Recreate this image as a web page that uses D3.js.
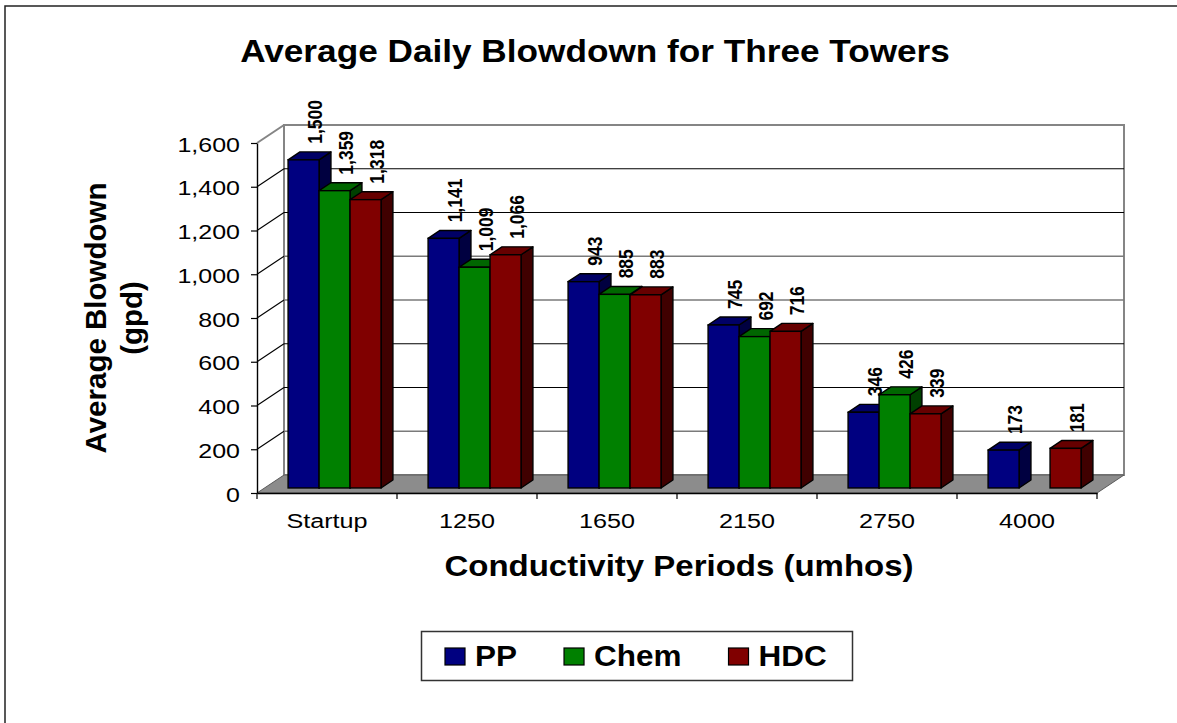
<!DOCTYPE html>
<html>
<head>
<meta charset="utf-8">
<script src="https://cdn.jsdelivr.net/npm/d3@7"></script>
<style>
    body { margin: 0; background: #fff; }
    svg { display: block; font-family: Arial, "Liberation Sans", sans-serif; }
</style>
</head>
<body>
<div id="chart"></div>
<script>
// chart values
const categories = ["Startup", "1250", "1650", "2150", "2750", "4000"];
const seriesNames = ["PP", "Chem", "HDC"];
const ppValues = [1500, 1141, 943, 745, 346, 173];
const chemValues = [1359, 1009, 885, 692, 426, null];
const hdcValues = [1318, 1066, 883, 716, 339, 181];
const yTicks = [0, 200, 400, 600, 800, 1000, 1200, 1400, 1600];

const chartTitle = "Average Daily Blowdown for Three Towers";
const xTitle = "Conductivity Periods (umhos)";
const yTitleLines = ["Average Blowdown", "(gpd)"];

// colours per series: front, top, side
const colors = {
    PP:   { front: "#000080", top: "#000066", side: "#000040" },
    Chem: { front: "#008000", top: "#006600", side: "#004000" },
    HDC:  { front: "#800000", top: "#660000", side: "#400000" }
};

const width = 1177, height = 723;

const svg = d3.select("#chart").append("svg")
    .attr("width", width)
    .attr("height", height);

// outer frame (right and bottom edges fall outside the picture)
svg.append("rect")
    .attr("x", 5).attr("y", 6)
    .attr("width", 1300).attr("height", 900)
    .attr("fill", "none")
    .attr("stroke", "#222")
    .attr("stroke-width", 1.5);

// 3d geometry
const DX = 27, DY = -18;          // wall depth
const barFront = 0.28, barDepth = 0.44;

// scales
let y = d3.scaleLinear().domain([0, 1600]).range([493, 143]);
let x = d3.scaleBand().domain(categories).range([257, 1097])
    .paddingInner(0.336).paddingOuter(0.168);
let xs = d3.scaleBand().domain(seriesNames).range([0, x.bandwidth()]);

const xLeft = x.range()[0], xRight = x.range()[1];
const softGrid = [200, 800, 1000];

// ---- walls ----
let walls = svg.append("g").attr("class", "walls");

// side wall
walls.append("path")
    .attr("d", `M${xLeft},${y(0)} L${xLeft + DX},${y(0) + DY} L${xLeft + DX},${y(1600) + DY} L${xLeft},${y(1600)} Z`)
    .attr("fill", "#fff")
    .attr("stroke", "none");

// back wall
walls.append("rect")
    .attr("x", xLeft + DX).attr("y", y(1600) + DY)
    .attr("width", xRight - xLeft)
    .attr("height", y(0) - y(1600))
    .attr("fill", "#fff")
    .attr("stroke", "#858585")
    .attr("stroke-width", 2);

// gridlines on side and back wall
let grid = svg.append("g").attr("class", "grid");
grid.selectAll(".grid-back")
    .data(yTicks.filter(d => d > 0 && d < 1600))
    .join("line")
    .attr("class", "grid-back")
    .attr("x1", xLeft + DX).attr("x2", xRight + DX)
    .attr("y1", d => y(d) + DY).attr("y2", d => y(d) + DY)
    .attr("stroke", d => softGrid.includes(d) ? "#7a7a7a" : "#000")
    .attr("stroke-width", d => softGrid.includes(d) ? 1.6 : 1.2);

grid.selectAll(".grid-side")
    .data(yTicks.filter(d => d > 0))
    .join("line")
    .attr("class", "grid-side")
    .attr("x1", xLeft).attr("y1", d => y(d))
    .attr("x2", xLeft + DX).attr("y2", d => y(d) + DY)
    .attr("stroke", d => d === 1600 ? "#858585" : "#000")
    .attr("stroke-width", d => d === 1600 ? 2 : 1.1);

// floor
svg.append("path")
    .attr("d", `M${xLeft},${y(0)} L${xRight},${y(0)} L${xRight + DX},${y(0) + DY} L${xLeft + DX},${y(0) + DY} Z`)
    .attr("fill", "#8c8c8c")
    .attr("stroke", "#5a5a5a")
    .attr("stroke-width", 1);

// ---- bars ----
let rows = [];
categories.forEach((c, i) => {
    [ppValues, chemValues, hdcValues].forEach((vals, j) => {
        if (vals[i] !== null) rows.push({ cat: c, series: seriesNames[j], value: vals[i] });
    });
});

const bdx = DX * barDepth, bdy = DY * barDepth;
rows.forEach(d => {
    d.left = x(d.cat) + xs(d.series) + DX * barFront;
    d.right = d.left + xs.bandwidth();
    d.top = y(d.value) + DY * barFront;
    d.bottom = y(0) + DY * barFront;
});

let bars = svg.append("g").attr("class", "bars")
    .selectAll(".bar")
    .data(rows)
    .join("g")
    .attr("class", "bar");

bars.append("path")
    .attr("d", d => `M${d.right},${d.top} L${d.right + bdx},${d.top + bdy} L${d.right + bdx},${d.bottom + bdy} L${d.right},${d.bottom} Z`)
    .attr("fill", d => colors[d.series].side)
    .attr("stroke", "#000").attr("stroke-width", 1.4).attr("stroke-linejoin", "round");

bars.append("path")
    .attr("d", d => `M${d.left},${d.top} L${d.left + bdx},${d.top + bdy} L${d.right + bdx},${d.top + bdy} L${d.right},${d.top} Z`)
    .attr("fill", d => colors[d.series].top)
    .attr("stroke", "#000").attr("stroke-width", 1.4).attr("stroke-linejoin", "round");

bars.append("rect")
    .attr("x", d => d.left).attr("y", d => d.top)
    .attr("width", xs.bandwidth())
    .attr("height", d => d.bottom - d.top)
    .attr("fill", d => colors[d.series].front)
    .attr("stroke", "#000").attr("stroke-width", 1.4);

// value labels
svg.append("g").attr("class", "labels")
    .selectAll("text")
    .data(rows)
    .join("text")
    .attr("transform", d => `translate(${(d.left + d.right) / 2 + 11},${d.top - 16}) scale(1.2,1) rotate(-90)`)
    .attr("dy", "0.35em")
    .attr("font-size", 17.5)
    .attr("font-weight", "bold")
    .attr("fill", "#000")
    .text(d => d3.format(",")(d.value));

// ---- axes ----
let yAxis = svg.append("g")
    .attr("class", "y-axis")
    .attr("transform", `translate(${xLeft},0)`)
    .call(d3.axisLeft(y).tickValues(yTicks).tickFormat(d3.format(",")).tickSize(6).tickSizeOuter(0));
yAxis.select(".domain").attr("stroke", "#000").attr("stroke-width", 1.4);
yAxis.selectAll(".tick line").attr("stroke", "#000").attr("stroke-width", 1.2);
yAxis.selectAll(".tick text")
    .attr("x", null).attr("dy", "0.36em")
    .attr("transform", "translate(-17,1) scale(1.25,1)")
    .attr("font-size", 20)
    .attr("font-family", null)
    .attr("fill", "#000");

let xAxis = svg.append("g")
    .attr("class", "x-axis")
    .attr("transform", `translate(0,${y(0)})`)
    .call(d3.axisBottom(x).tickSize(0).tickSizeOuter(0));
xAxis.select(".domain").attr("stroke", "#000").attr("stroke-width", 1.4);
xAxis.selectAll(".tick text")
    .attr("y", null).attr("dy", null)
    .attr("transform", "translate(0,35) scale(1.2,1)")
    .attr("font-size", 21)
    .attr("font-family", null)
    .attr("fill", "#000");
xAxis.selectAll(".bound")
    .data(d3.range(categories.length + 1))
    .join("line")
    .attr("class", "bound")
    .attr("x1", i => xLeft + i * x.step()).attr("x2", i => xLeft + i * x.step())
    .attr("y1", 0).attr("y2", 6)
    .attr("stroke", "#000").attr("stroke-width", 1.2);

// ---- titles ----
svg.append("text")
    .attr("transform", "translate(595,62) scale(1.1,1)")
    .attr("text-anchor", "middle")
    .attr("font-size", 32)
    .attr("font-weight", "bold")
    .text(chartTitle);

svg.append("text")
    .attr("transform", "translate(679,576) scale(1.1,1)")
    .attr("text-anchor", "middle")
    .attr("font-size", 30)
    .attr("font-weight", "bold")
    .text(xTitle);

svg.append("g")
    .selectAll("text")
    .data(yTitleLines)
    .join("text")
    .attr("transform", (d, i) => `translate(${106 + i * 36},318) rotate(-90)`)
    .attr("text-anchor", "middle")
    .attr("font-size", 29.5)
    .attr("font-weight", "bold")
    .text(d => d);

// ---- legend ----
let legend = svg.append("g").attr("class", "legend");
legend.append("rect")
    .attr("x", 421.5).attr("y", 631.5)
    .attr("width", 431).attr("height", 49)
    .attr("fill", "#fff")
    .attr("stroke", "#333").attr("stroke-width", 1.5);

let lx = 445;
seriesNames.forEach(s => {
    legend.append("rect")
        .attr("x", lx).attr("y", 648)
        .attr("width", 20).attr("height", 17)
        .attr("fill", colors[s].front)
        .attr("stroke", "#000").attr("stroke-width", 1.2);
    let t = legend.append("text")
        .attr("transform", `translate(${lx + 30},666) scale(1.05,1)`)
        .attr("font-size", 30)
        .attr("font-weight", "bold")
        .text(s);
    lx += 30 + t.node().getComputedTextLength() * 1.05 + 47;
});
</script>
</body>
</html>
